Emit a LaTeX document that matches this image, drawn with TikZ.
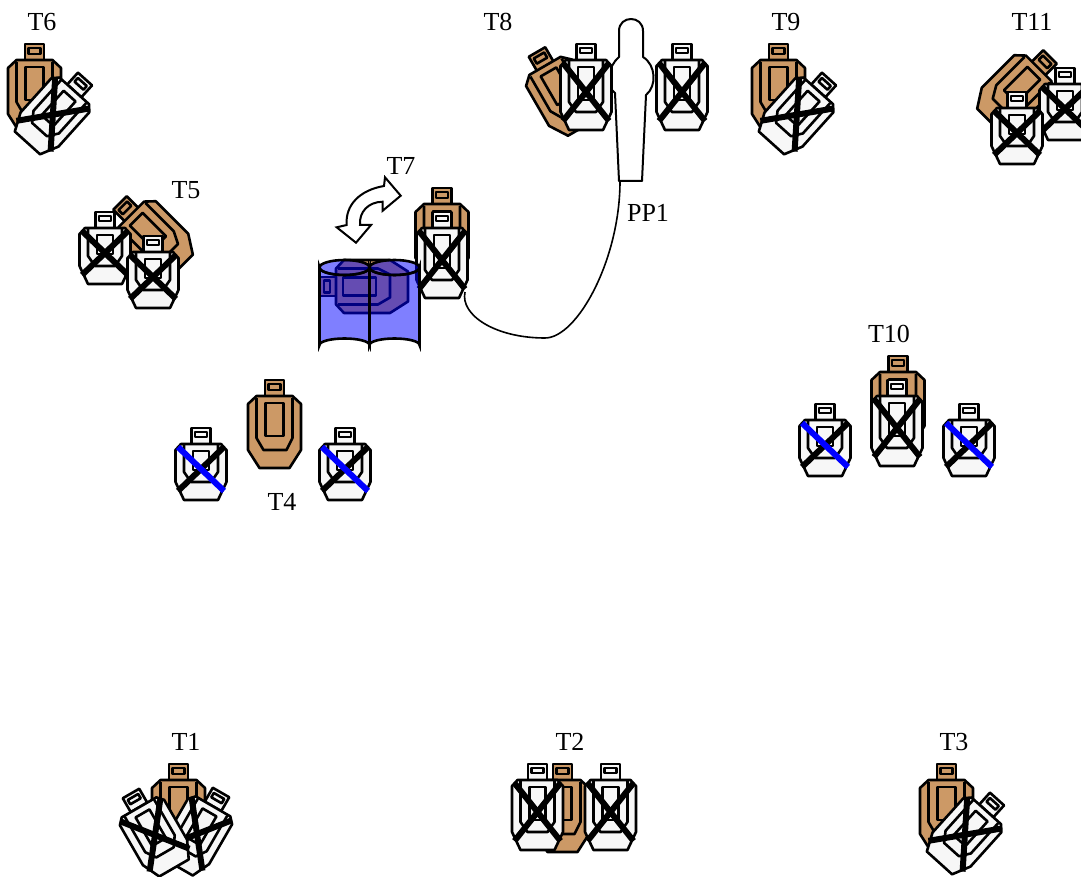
\documentclass[tikz,border=0pt]{standalone}
\usepackage{fontspec}
\setmainfont{Liberation Serif}
\definecolor{tan}{RGB}{204,153,102}
\definecolor{paper}{RGB}{247,247,247}
\tikzset{
  tgtline/.style={draw=black,line width=2.6pt,line join=round},
  tanfill/.style={tgtline,fill=tan},
  whitefill/.style={tgtline,fill=paper},
  xbar/.style={line width=6pt,line cap=butt},
  lbl/.style={font=\fontsize{26}{26}\selectfont,inner sep=0pt},
  barrel/.style={draw=black,line width=2.6pt,fill=blue,fill opacity=0.5,draw opacity=1},
  silh/.style={draw=black,line width=2pt,fill=white,line join=round},
  wire/.style={draw=black,line width=1.6pt},
  swing/.style={draw=black,line width=2pt,fill=white,line join=miter}
}
% x, y (top centre of the stem), rotation
\newcommand{\tantgt}[3]{%
\begin{scope}[shift={(#1,#2)},rotate=#3]
  \draw[tanfill] (-9.5,0) rectangle (9.5,18);
  \draw[tgtline] (-6,4) rectangle (6,10);
  \draw[tanfill] (-18,16) -- (-26.5,24) -- (-26.5,70) -- (-15,88) -- (15,88) -- (26.5,70) -- (26.5,24) -- (18,16) -- cycle;
  \draw[tgtline] (-18,18) -- (-18,58) -- (-11,70) -- (12,70) -- (18,58) -- (18,18);
  \draw[tgtline] (-9,23) rectangle (9,56);
\end{scope}}
% x, y, rotation, total length, colour of the falling bar
\newcommand{\whitetgt}[5]{%
\begin{scope}[shift={(#1,#2)},rotate=#3]
  \draw[whitefill] (-9.5,0) rectangle (9.5,16);
  \draw[tgtline] (-6,4) rectangle (6,9);
  \draw[whitefill] (-20,16) -- (-25.5,22) -- (-25.5,{#4-18}) -- (-17,#4) -- (17,#4) -- (25.5,{#4-18}) -- (25.5,22) -- (20,16) -- cycle;
  \draw[tgtline] (-17,17) -- (-17,{#4-28}) -- (-10,{#4-18}) -- (10,{#4-18}) -- (17,{#4-28}) -- (17,17);
  \draw[tgtline] (-8,23) rectangle (8,{#4-30});
  \draw[xbar,black] (23,19) -- (-23,{#4-9});
  \draw[xbar,#5] (-23,19) -- (23,{#4-9});
\end{scope}}
\begin{document}
\begin{tikzpicture}[x=1pt,y=-1pt]
\useasboundingbox (0,0) rectangle (1081,877);
% T6
\tantgt{34.5}{44}{0}
\whitetgt{85}{79}{-42}{86}{black}
% T9
\tantgt{778.5}{44}{0}
\whitetgt{829}{79}{-42}{86}{black}
% T3
\tantgt{946.5}{764}{0}
\whitetgt{997}{799}{-42}{86}{black}
% T1
\tantgt{178.5}{764}{0}
\whitetgt{221}{792.5}{-30}{86}{black}
\whitetgt{131}{793.5}{30}{86}{black}
% T2
\tantgt{562.5}{764}{0}
\whitetgt{537.5}{764}{0}{86}{black}
\whitetgt{610.5}{764}{0}{86}{black}
% T4
\tantgt{274.5}{380}{0}
\whitetgt{201}{428}{0}{72}{blue}
\whitetgt{345}{428}{0}{72}{blue}
% T5
\tantgt{120}{203}{45}
\whitetgt{105}{212}{0}{72}{black}
\whitetgt{153}{236}{0}{72}{black}
% T10
\tantgt{898}{356}{0}
\whitetgt{897}{380}{0}{86}{black}
\whitetgt{825}{404}{0}{72}{blue}
\whitetgt{969}{404}{0}{72}{blue}
% T11
\tantgt{1050}{57}{-45}
\whitetgt{1065}{68}{0}{72}{black}
\whitetgt{1017}{92}{0}{72}{black}
% PP1 silhouette and wire
\draw[silh] (619,181) -- (615,93) .. controls (605,86) and (608,66) .. (619,57)
  -- (619,31) .. controls (619,15) and (643,15) .. (643,31)
  -- (643,57) .. controls (656,65) and (657,86) .. (646,95)
  -- (642,181) -- cycle;
\coordinate (pp1foot) at (620,181);
\coordinate (t7wire) at (465,292);
% T8
\tantgt{537}{52}{30}
\whitetgt{586}{44}{0}{86}{black}
\whitetgt{682}{44}{0}{86}{black}
% T7
\tantgt{442}{188}{0}
\whitetgt{442}{212}{0}{86}{black}
\draw[wire] (pp1foot) .. controls (620,260) and (577,338) .. (545,338)
  .. controls (495,338) and (460,315) .. (t7wire);
% barrels with the hidden target
\tantgt{320}{286.5}{90}
\draw[barrel] (319.5,267.5) -- (319.5,345) arc[start angle=180,end angle=360,x radius=25,y radius=6.5] -- (369.5,267.5) arc[start angle=0,end angle=180,x radius=25,y radius=7.5] -- cycle;
\draw[barrel] (369.5,267.5) -- (369.5,345) arc[start angle=180,end angle=360,x radius=25,y radius=6.5] -- (419.5,267.5) arc[start angle=0,end angle=180,x radius=25,y radius=7.5] -- cycle;
\draw[barrel] (344.5,267.5) ellipse[x radius=25,y radius=7.5];
\draw[barrel] (394.5,267.5) ellipse[x radius=25,y radius=7.5];
% swing arrow
\draw[swing] (400.7,195.7) -- (385,177.3) -- (384,186) .. controls (360,190) and (345,205) .. (346.7,225)
  -- (336.7,227.3) -- (356,242.7) -- (371,225) -- (360,225)
  .. controls (359,212) and (368,202) .. (382.7,201.7) -- (382.7,210.7) -- cycle;
% labels
\node[lbl] (lt6) at (42,22) {T6};
\node[lbl] (lt8) at (498,22) {T8};
\node[lbl] (lt9) at (786,22) {T9};
\node[lbl] (lt11) at (1032,22) {T11};
\node[lbl] (lt5) at (186,190) {T5};
\node[lbl] (lt7) at (401,166) {T7};
\node[lbl] (lpp1) at (648,213) {PP1};
\node[lbl] (lt10) at (889,334) {T10};
\node[lbl] (lt4) at (282,502) {T4};
\node[lbl] (lt1) at (186,742) {T1};
\node[lbl] (lt2) at (570,742) {T2};
\node[lbl] (lt3) at (954,742) {T3};
\end{tikzpicture}
\end{document}
